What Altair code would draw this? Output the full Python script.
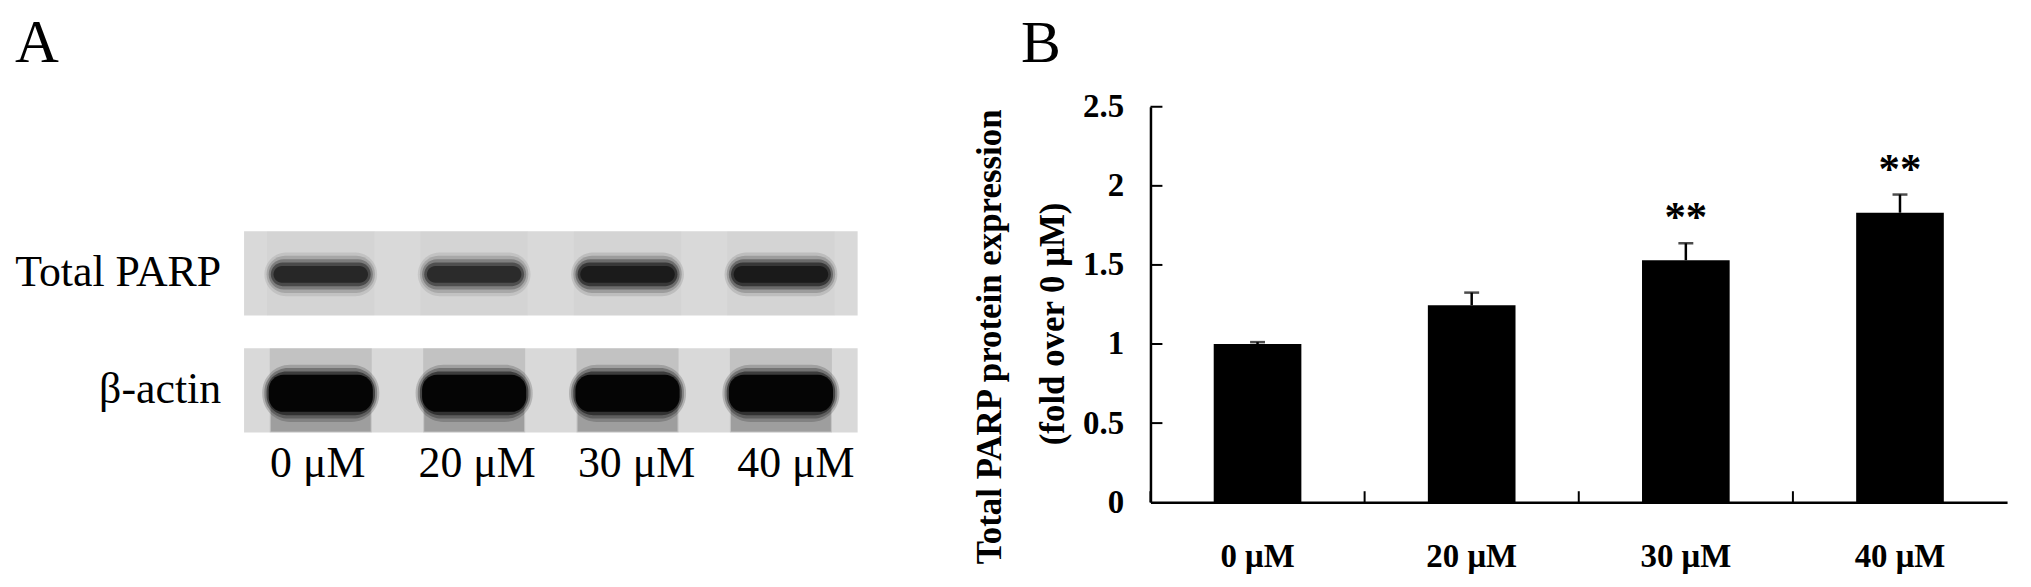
import altair as alt
import pandas as pd

# ---------------- data ----------------
doses = ["0 μM", "20 μM", "30 μM", "40 μM"]
fold_mean = [1.00, 1.245, 1.53, 1.83]
fold_sem = [0.012, 0.08, 0.107, 0.115]
significance = ["", "", "**", "**"]
y_ticks = [0, 0.5, 1, 1.5, 2, 2.5]

blot_rows = ["Total PARP", "β-actin"]
parp_density = [0.78, 0.74, 0.95, 0.98]
actin_density = [1.0, 1.0, 1.0, 1.0]

y_title_lines = ["Total PARP protein expression", "(fold over 0 μM)"]
panel_letters = ["A", "B"]

SERIF = "Liberation Serif"

bars_df = pd.DataFrame({"dose": doses, "mean": fold_mean, "sem": fold_sem, "sig": significance})
blot_df = pd.DataFrame({
    "lane": doses * 2,
    "row": [blot_rows[0]] * 4 + [blot_rows[1]] * 4,
    "density": parp_density + actin_density,
})

# ---------------- panel B ----------------
lab = dict(labelFont=SERIF, labelFontWeight="bold", labelFontSize=33, labelColor="black")
xB_axis = alt.Axis(title=None, labelAngle=0, ticks=False, tickSize=0, labelPadding=65,
                   labelBaseline="alphabetic", domainColor="black", domainWidth=2.5, grid=False, **lab)
yB_axis = alt.Axis(title=None, values=y_ticks, format="~g", ticks=False, tickSize=0, labelPadding=27,
                   labelBaseline="middle", domainColor="black", domainWidth=2.5, grid=False, **lab)

xB = alt.X("dose:N", sort=doses, scale=alt.Scale(paddingInner=0, paddingOuter=0), axis=xB_axis)
yB = alt.Y("mean:Q", scale=alt.Scale(domain=[0, 2.5], nice=False, zero=True), axis=yB_axis)

base = alt.Chart(bars_df).transform_calculate(top="datum.mean + datum.sem")
bars = base.mark_bar(size=88, color="black").encode(x=xB, y=yB)
err = base.mark_rule(color="black", strokeWidth=2.5).encode(
    x=alt.X("dose:N", sort=doses), y=alt.Y("mean:Q"), y2="top:Q")
caps = base.mark_tick(color="black", size=15, thickness=2.5).encode(
    x=alt.X("dose:N", sort=doses), y=alt.Y("top:Q"))
stars = base.transform_filter("datum.sig != ''").mark_text(
    font=SERIF, fontWeight="bold", fontSize=43, dy=-25, baseline="middle", color="black"
).encode(x=alt.X("dose:N", sort=doses), y=alt.Y("top:Q"), text="sig:N")
xsep = base.mark_rule(color="black", strokeWidth=2).encode(
    x=alt.X("dose:N", sort=doses, bandPosition=0), y=alt.value(397), y2=alt.value(386))
ytk = alt.Chart(pd.DataFrame({"v": y_ticks[1:]})).mark_rule(color="black", strokeWidth=2).encode(
    y=alt.Y("v:Q"), x=alt.value(0), x2=alt.value(12))


def text_layer(txt, x, y, size, weight="normal", angle=0, align="left", baseline="alphabetic"):
    return alt.Chart(pd.DataFrame({"t": [txt]})).mark_text(
        font=SERIF, fontSize=size, fontWeight=weight, angle=angle, align=align,
        baseline=baseline, color="black"
    ).encode(x=alt.value(x), y=alt.value(y), text="t:N")


title1 = text_layer(y_title_lines[0], -161, 231, 35, "bold", 270, "center", "middle")
title2 = text_layer(y_title_lines[1], -98, 218, 35, "bold", 270, "center", "middle")
letterA = text_layer(panel_letters[0], -1140, -45, 61)
letterB = text_layer(panel_letters[1], -130, -45, 60)

panelB = alt.layer(bars, err, caps, stars, xsep, ytk, title1, title2, letterA, letterB)

# ---------------- panel A (blot) ----------------
xA = alt.X("lane:N", sort=doses, axis=None,
           scale=alt.Scale(range=[-910, -294], paddingInner=0.3, paddingOuter=0.15))
yA = alt.Y("row:N", sort=blot_rows, axis=None,
           scale=alt.Scale(range=[125, 327], paddingInner=0.28, paddingOuter=0))

rows_df = pd.DataFrame({"row": blot_rows})
membrane = alt.Chart(rows_df).mark_rect(color="#d9d9d9").encode(
    y=yA, x=alt.value(-910), x2=alt.value(-294))
row_labels = alt.Chart(rows_df).mark_text(
    font=SERIF, fontSize=44, align="right", baseline="middle", color="black"
).encode(y=yA, x=alt.value(-933), text="row:N")

blot = alt.Chart(blot_df)
parp = blot.transform_filter(alt.datum.row == blot_rows[0])
actin = blot.transform_filter(alt.datum.row == blot_rows[1])

blot_layers = [membrane]

# faint lane shading on PARP membrane
blot_layers.append(parp.mark_rect(
    width={"band": 1.0}, height={"band": 1.0}, color="#b0b0b0", opacity=0.1
).encode(x=xA, y=yA))

# soft PARP bands: concentric translucent layers (blurred look)
for wb, hb, k, r in [(1.05, 0.52, 0.12, 22), (1.01, 0.44, 0.2, 19), (0.97, 0.36, 0.36, 15),
                     (0.93, 0.28, 0.6, 12), (0.88, 0.20, 0.8, 9)]:
    blot_layers.append(parp.transform_calculate(op=f"{k} * datum.density").mark_rect(
        width={"band": wb}, height={"band": hb}, cornerRadius=r, color="#121212", yOffset=1
    ).encode(x=xA, y=yA, opacity=alt.Opacity("op:Q", scale=None, legend=None)))

# beta-actin: smear + dense saturated band
blot_layers.append(actin.mark_rect(
    width={"band": 0.95}, height={"band": 1.0}, color="#8a8a8a", opacity=0.28
).encode(x=xA, y=yA))
blot_layers.append(actin.mark_rect(
    width={"band": 0.93}, height={"band": 0.34}, yOffset=27, color="#555555", opacity=0.32
).encode(x=xA, y=yA))
for wb, hb, k, r in [(1.09, 0.68, 0.18, 28), (1.05, 0.60, 0.28, 24), (1.01, 0.52, 0.5, 20),
                     (0.97, 0.44, 1.0, 15)]:
    blot_layers.append(actin.transform_calculate(op=f"{k} * datum.density").mark_rect(
        width={"band": wb}, height={"band": hb}, cornerRadius=r, color="#050505", yOffset=3
    ).encode(x=xA, y=yA, opacity=alt.Opacity("op:Q", scale=None, legend=None)))

blot_layers.append(row_labels)
panelA = alt.layer(*blot_layers)

lane_labels = alt.Chart(pd.DataFrame({"lane": doses})).mark_text(
    font=SERIF, fontSize=44, baseline="alphabetic", color="black"
).encode(
    x=alt.X("lane:N", sort=doses, axis=None,
            scale=alt.Scale(range=[-916, -276], paddingInner=0, paddingOuter=0)),
    y=alt.value(372), text="lane:N")

chart = alt.layer(panelA, lane_labels, panelB).resolve_scale(
    x="independent", y="independent"
).properties(
    width=860, height=397,
    autosize=alt.AutoSizeParams(type="none"),
    padding={"left": 1147, "top": 98, "right": 16, "bottom": 84},
    background="white",
).configure_view(stroke=None)

chart.save("out.html", embed_options={"renderer": "svg", "actions": False})
